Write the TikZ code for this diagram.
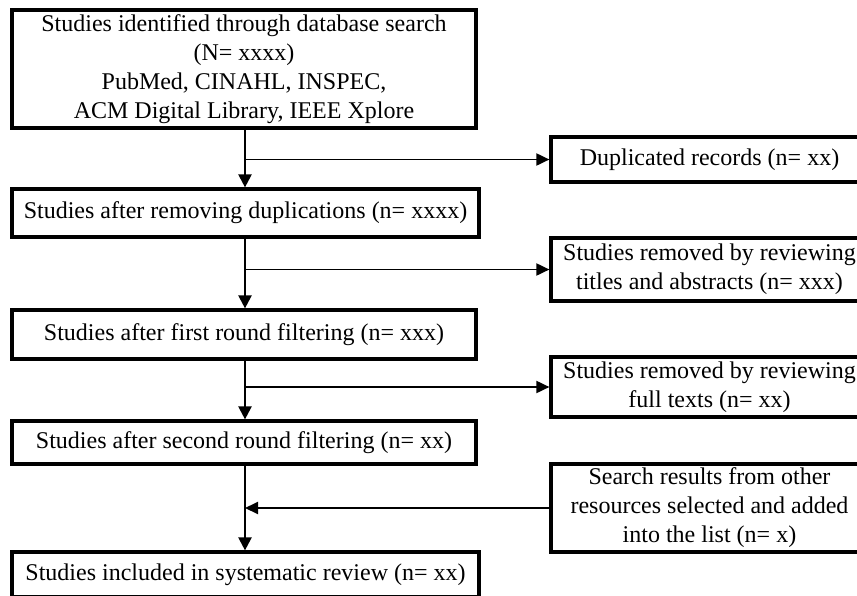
\documentclass[tikz,border=0pt]{standalone}
\usepackage{fontspec}
\setmainfont{Liberation Serif}
\usetikzlibrary{arrows.meta}
\begin{document}
\begin{tikzpicture}[x=1pt,y=-1pt,
  box/.style={draw,line width=3.2pt,align=center,inner sep=0pt,
    font=\fontsize{24}{29}\selectfont},
  mainarr/.style={line width=2.2pt,-{Triangle[length=13pt,width=13pt]}},
  sidearr/.style={line width=1.9pt,-{Triangle[length=13pt,width=12pt]}}]
\useasboundingbox (0,0) rectangle (857,595);
\fill[white] (0,0) rectangle (857,595);
\coordinate (spine) at (245,0);
% main column
\node[box,minimum width=464,minimum height=118] (b1) at (244,69)
  {Studies identified through database search\\(N= xxxx)\\PubMed, CINAHL, INSPEC,\\ACM Digital Library, IEEE Xplore};
\node[box,minimum width=467,minimum height=48] (b2) at (245.5,213)
  {Studies after removing duplications (n= xxxx)};
\node[box,minimum width=464,minimum height=49] (b3) at (244,334.5)
  {Studies after first round filtering (n= xxx)};
\node[box,minimum width=464,minimum height=43] (b4) at (244,442.5)
  {Studies after second round filtering (n= xx)};
\node[box,minimum width=467,minimum height=45] (b5) at (245.5,574.5)
  {Studies included in systematic review (n= xx)};
% side column
\node[box,minimum width=317,minimum height=45] (s1) at (709.5,159.5)
  {Duplicated records (n= xx)};
\node[box,minimum width=317,minimum height=63] (s2) at (709.5,269.5)
  {Studies removed by reviewing\\titles and abstracts (n= xxx)};
\node[box,minimum width=317,minimum height=60] (s3) at (709.5,387)
  {Studies removed by reviewing\\full texts (n= xx)};
\node[box,minimum width=317,minimum height=88] (s4) at (709.5,508)
  {Search results from other\\resources selected and added\\into the list (n= x)};
% connectors
\draw[mainarr] (b1.south -| spine) -- (b2.north -| spine);
\draw[mainarr] (b2.south -| spine) -- (b3.north -| spine);
\draw[mainarr] (b3.south -| spine) -- (b4.north -| spine);
\draw[mainarr] (b4.south -| spine) -- (b5.north -| spine);
\draw[sidearr] (spine |- s1.west) -- (s1.west);
\draw[sidearr] (spine |- s2.west) -- (s2.west);
\draw[sidearr] (spine |- s3.west) -- (s3.west);
\draw[sidearr] (s4.west) -- (spine |- s4.west);
\end{tikzpicture}
\end{document}
